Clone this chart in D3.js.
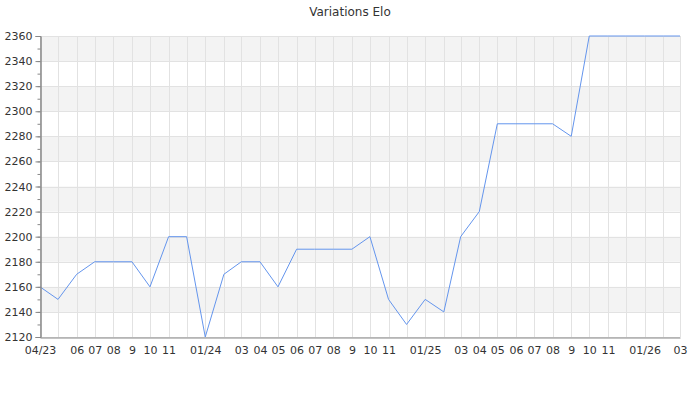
<!doctype html>
<html lang="fr">
<head>
<meta charset="utf-8">
<script src="https://cdnjs.cloudflare.com/ajax/libs/d3/7.8.5/d3.min.js"></script>
<style>
  body { margin: 0; background: #fff; font-family: 'DejaVu Sans', sans-serif; }
  .grid line { stroke: #e2e2e2; stroke-width: 1; }
  .axis text { fill: #333; font-size: 11px; font-family: 'DejaVu Sans', sans-serif; }
  .axis path, .axis line { stroke: #888; }
</style>
</head>
<body>
<script>
// monthly elo, from 04/23 to 03/26
const months = ["2023-04","2023-05","2023-06","2023-07","2023-08","2023-09","2023-10","2023-11","2023-12",
  "2024-01","2024-02","2024-03","2024-04","2024-05","2024-06","2024-07","2024-08","2024-09","2024-10","2024-11","2024-12",
  "2025-01","2025-02","2025-03","2025-04","2025-05","2025-06","2025-07","2025-08","2025-09","2025-10","2025-11","2025-12",
  "2026-01","2026-02","2026-03"]
const elo = [2160,2150,2170,2180,2180,2180,2160,2200,2200,
  2120,2170,2180,2180,2160,2190,2190,2190,2190,2200,2150,2130,
  2150,2140,2200,2220,2290,2290,2290,2290,2280,2360,2360,2360,
  2360,2360,2360]
// label shown under each month ("" = hidden)
const monthLabels = ["04/23","","06","07","08","9","10","11","",
  "01/24","","03","04","05","06","07","08","9","10","11","",
  "01/25","","03","04","05","06","07","08","9","10","11","",
  "01/26","","03"]
const yTicks = [2120,2140,2160,2180,2200,2220,2240,2260,2280,2300,2320,2340,2360]

const w = 700, h = 400
const margin = {top: 36, right: 20, bottom: 63, left: 40}

const parse = d3.timeParse("%Y-%m")
const dates = months.map(parse)
const values = dates.map((d, i) => [d, elo[i]])

const xScale = d3.scaleTime()
  .domain(d3.extent(dates))
  .range([margin.left, w - margin.right])
const yScale = d3.scaleLinear()
  .domain([2120, 2360])
  .range([h - margin.bottom, margin.top])

const svg = d3.select("body").append("svg")
  .attr("width", w)
  .attr("height", h)

// alternating bands
const bands = d3.range(yTicks.length - 1).filter(i => i % 2 == 1)
svg.selectAll("rect.band")
  .data(bands)
  .enter()
  .append("rect")
  .attr("class", "band")
  .attr("x", margin.left)
  .attr("width", w - margin.right - margin.left)
  .attr("y", i => yScale(yTicks[i + 1]))
  .attr("height", i => yScale(yTicks[i]) - yScale(yTicks[i + 1]))
  .attr("fill", "#f3f3f3")

// grid
const grid = svg.append("g").attr("class", "grid")
grid.selectAll("line.v")
  .data(dates)
  .enter()
  .append("line")
  .attr("x1", d => Math.round(xScale(d)) + 0.5)
  .attr("x2", d => Math.round(xScale(d)) + 0.5)
  .attr("y1", margin.top)
  .attr("y2", h - margin.bottom)
grid.selectAll("line.h")
  .data(yTicks)
  .enter()
  .append("line")
  .attr("x1", margin.left)
  .attr("x2", w - margin.right)
  .attr("y1", d => Math.round(yScale(d)) + 0.5)
  .attr("y2", d => Math.round(yScale(d)) + 0.5)

// line
const line = d3.line()
  .x(d => xScale(d[0]))
  .y(d => yScale(d[1]))
svg.append("path")
  .datum(values)
  .attr("fill", "none")
  .attr("stroke", "#6495ed")
  .attr("stroke-width", 1)
  .attr("d", line)

// axes
const xAxis = d3.axisBottom(xScale)
  .tickValues(dates)
  .tickSize(0)
  .tickPadding(9)
  .tickFormat((d, i) => monthLabels[i])
svg.append("g")
  .attr("class", "axis")
  .attr("transform", "translate(0," + (h - margin.bottom + 0.5) + ")")
  .call(xAxis)

const yMinor = d3.axisLeft(yScale)
  .ticks(24)
  .tickSize(3)
  .tickFormat("")
svg.append("g")
  .attr("class", "axis")
  .attr("transform", "translate(" + (margin.left + 0.5) + ",0)")
  .call(yMinor)

const yAxis = d3.axisLeft(yScale)
  .tickValues(yTicks)
  .tickSize(5)
  .tickPadding(3)
  .tickFormat(d3.format("d"))
svg.append("g")
  .attr("class", "axis")
  .attr("transform", "translate(" + (margin.left + 0.5) + ",0)")
  .call(yAxis)

// title
svg.append("text")
  .attr("x", w / 2)
  .attr("y", 16)
  .attr("text-anchor", "middle")
  .attr("fill", "#333")
  .style("font-size", "12px")
  .text("Variations Elo")
</script>
</body>
</html>
